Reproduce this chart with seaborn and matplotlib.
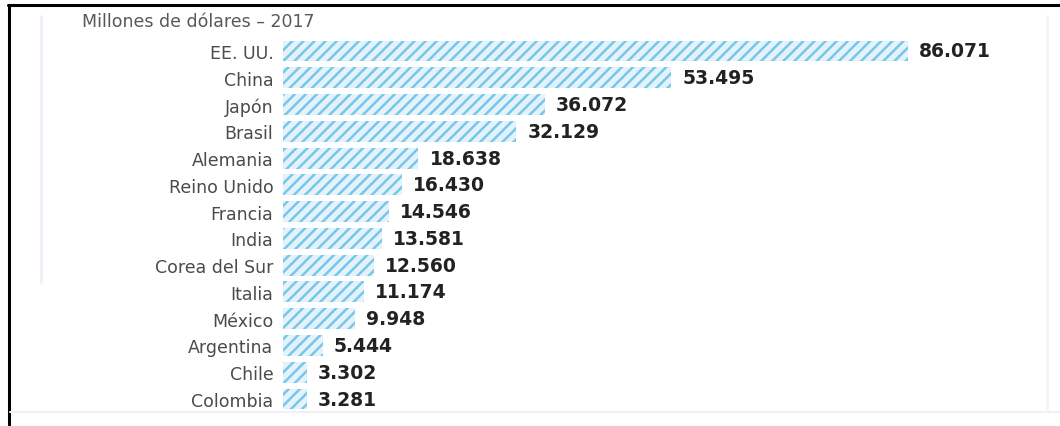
import pandas as pd
import seaborn as sns
import numpy as np
import matplotlib.pyplot as plt
from matplotlib.lines import Line2D

paises = ['EE. UU.', 'China', 'Japón', 'Brasil', 'Alemania', 'Reino Unido', 'Francia',
          'India', 'Corea del Sur', 'Italia', 'México', 'Argentina', 'Chile', 'Colombia']
gasto = [86071, 53495, 36072, 32129, 18638, 16430, 14546,
         13581, 12560, 11174, 9948, 5444, 3302, 3281]
titulo = 'Millones de dólares – 2017'

df = pd.DataFrame({'pais': paises, 'gasto': gasto})

sns.set_theme(style='white')
plt.rcParams['font.family'] = ['DejaVu Sans']
plt.rcParams['hatch.linewidth'] = 1.8
plt.rcParams['hatch.color'] = '#78c7ea'

fig = plt.figure(figsize=(10.6, 4.27), dpi=100)
ax = fig.add_axes([283 / 1060, 13.6 / 427, 757 / 1060, 374.8 / 427])

sns.barplot(data=df, x='gasto', y='pais', orient='h', color='#e4f3fb',
            width=0.78, saturation=1, ax=ax)
for bar in ax.patches:
    bar.set_hatch('///')
    bar.set_edgecolor('#78c7ea')
    bar.set_linewidth(0)

ax.set_xlim(0, 86071 * 757 / 625)
ax.set_ylim(13.5, -0.5)
ax.set_xlabel('')
ax.set_ylabel('')
ax.set_xticks([])
ax.tick_params(axis='y', length=0, pad=7, labelsize=12.5, labelcolor='#4d4a48')
sns.despine(ax=ax, left=True, bottom=True)

etiquetas = [f'{v:,}'.replace(',', '.') for v in gasto]
ax.bar_label(ax.containers[0], labels=etiquetas, padding=8, fontsize=13.5,
             fontweight='bold', color='#222222')

fig.text(82 / 1060, 1 - 22 / 427, titulo, fontsize=12.5, color='#5a5754', va='center', ha='left')

# marco de la captura
fig.add_artist(Line2D([8 / 1060, 1], [1 - 6 / 427, 1 - 6 / 427], color='black', lw=2.2))
fig.add_artist(Line2D([9 / 1060, 9 / 1060], [0, 1 - 6 / 427], color='black', lw=2.2))
fig.add_artist(Line2D([41 / 1060, 41 / 1060], [1 - 17 / 427, 1 - 283 / 427], color='#eeeefa', lw=2))
fig.add_artist(Line2D([1047 / 1060, 1047 / 1060], [1 - 17 / 427, 1 - 410 / 427], color='#f3f3fa', lw=2))
fig.add_artist(Line2D([10 / 1060, 1], [1 - 413 / 427, 1 - 413 / 427], color='#f0f0f5', lw=1.5))

fig.savefig('out.png', dpi=100)
